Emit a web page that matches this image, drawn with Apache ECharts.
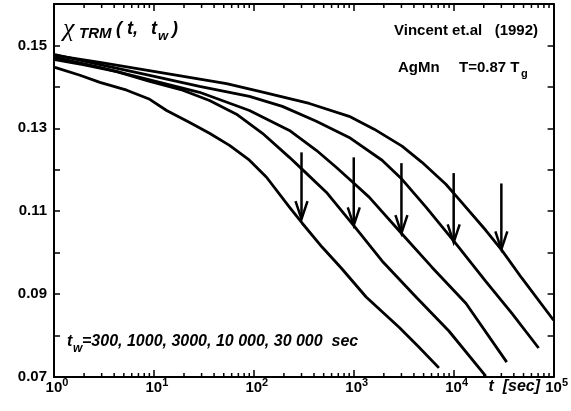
<!DOCTYPE html>
<html><head><meta charset="utf-8">
<script src="https://cdn.jsdelivr.net/npm/echarts@6/dist/echarts.min.js"></script>
<style>html,body{margin:0;padding:0;background:#fff}#c{width:571px;height:411px}</style>
</head><body><div id="c"></div>
<script>
// ---- data ----
const t300 = [1.02,1.82,2.88,5.35,9.08,13.4,22.8,36.0,57.1,90.4,134,227,305,484,749,1330,2840,4500,7120];
const v300 = [0.1447,0.1428,0.1411,0.1392,0.1370,0.1343,0.1314,0.1288,0.1259,0.1223,0.1182,0.1110,0.1071,0.1013,0.0963,0.0893,0.0820,0.0772,0.0722];
const t1000 = [1.02,1.95,4.26,9.08,19.4,36.0,67.0,122,227,305,531,1010,1920,4198,8954,20950];
const v1000 = [0.1466,0.1454,0.1437,0.1413,0.1392,0.1367,0.1334,0.1288,0.1230,0.1201,0.1146,0.1064,0.0980,0.0893,0.0811,0.0702];
const t3000 = [1.02,2.88,9.08,28.6,90.4,227,422,667,1010,1425,3041,6053,13240,33960];
const v3000 = [0.1471,0.1447,0.1417,0.1387,0.1343,0.1295,0.1247,0.1206,0.1167,0.1134,0.1045,0.0965,0.0878,0.0736];
const t10000 = [1.02,2.88,9.08,28.6,90.4,193,422,900,1920,3041,5284,10280,20950,38100,70800];
const v10000 = [0.1478,0.1454,0.1428,0.1401,0.1377,0.1353,0.1317,0.1278,0.1223,0.1177,0.1110,0.1025,0.0931,0.0854,0.0770];
const t30000 = [1.02,2.88,11.4,53.3,114,359,900,1599,3041,4820,8358,11270,20950,30270,47960,100000];
const v30000 = [0.1476,0.1459,0.1435,0.1408,0.1389,0.1360,0.1329,0.1298,0.1257,0.1218,0.1165,0.1129,0.1054,0.1006,0.0939,0.0837];
const arrowT = [300,1000,3000,10000,30000];
const arrowTop = [0.1242,0.1230,0.1216,0.1192,0.1167];
const arrowTip = [0.1081,0.1066,0.1047,0.1025,0.1008];
const xMin = 1, xMax = 100000;
const yMin = 0.07, yMax = 0.16, yStep = 0.01;
const minorMult = [2,3,4,5,6,7,8,9];
const decadeStarts = [1,10,100,1000,10000];

const FONT = '"Liberation Sans", Arial, Helvetica, sans-serif';
const zip = (a,b) => a.map((x,i)=>[x,b[i]]);
const curves = [[t300,v300],[t1000,v1000],[t3000,v3000],[t10000,v10000],[t30000,v30000]];
const minorT = [];
decadeStarts.forEach(d => minorMult.forEach(m => minorT.push(d*m)));

const chart = echarts.init(document.getElementById('c'));
const axisLine = {show:true, onZero:false, lineStyle:{color:'#000', width:2}};
const series = curves.map(c => ({
  type:'line', data: zip(c[0], c[1]), showSymbol:false, smooth:false,
  lineStyle:{color:'#000', width:2.8, join:'round'}, z:3, animation:false
}));
series.push({
  type:'custom', animation:false, z:4,
  data: arrowT.map((t,i)=>[t, arrowTop[i], arrowTip[i]]),
  encode:{x:0, y:[1,2]},
  renderItem:(params, api) => {
    const p1 = api.coord([api.value(0), api.value(1)]);
    const p2 = api.coord([api.value(0), api.value(2)]);
    return {type:'group', children:[
      {type:'line', shape:{x1:p1[0],y1:p1[1],x2:p2[0],y2:p2[1]}, style:{stroke:'#000', lineWidth:2.5}},
      {type:'polyline', shape:{points:[[p2[0]-6,p2[1]-18],[p2[0],p2[1]],[p2[0]+6,p2[1]-18]]}, style:{stroke:'#000', lineWidth:2.5, fill:null}}
    ]};
  }
});
series.push({
  type:'custom', animation:false, z:5, silent:true,
  data: minorT.map(t=>[t, yMin]),
  encode:{x:0, y:1},
  renderItem:(params, api) => {
    const b = api.coord([api.value(0), yMin]);
    const tp = api.coord([api.value(0), yMax]);
    return {type:'group', children:[
      {type:'line', shape:{x1:b[0],y1:b[1],x2:b[0],y2:b[1]-4}, style:{stroke:'#000', lineWidth:1.5}},
      {type:'line', shape:{x1:tp[0],y1:tp[1],x2:tp[0],y2:tp[1]+4}, style:{stroke:'#000', lineWidth:1.5}}
    ]};
  }
});

const txt = (text, x, y, font, align) => ({type:'text', x:x, y:y, z:10,
  style:{text:text, font:font, fill:'#000', align:align||'left', verticalAlign:'middle'}});

chart.setOption({
  animation:false,
  backgroundColor:'#fff',
  grid:{left:54, right:16, top:4, bottom:34, containLabel:false},
  xAxis:[{
    type:'log', logBase:10, min:xMin, max:xMax, position:'bottom',
    axisLine:axisLine, splitLine:{show:false},
    axisTick:{show:true, inside:true, length:7, lineStyle:{color:'#000', width:1.5}},
    axisLabel:{show:true, margin:0, color:'#000',
      formatter: v => '{sp| }{b|10}{s|' + Math.round(Math.log10(v)) + '}',
      rich:{
        sp:{width:6, fontSize:11},
        b:{fontSize:15, fontWeight:'bold', fontFamily:FONT, color:'#000'},
        s:{fontSize:11, fontWeight:'bold', fontFamily:FONT, color:'#000', padding:[0,0,11,0]}
      }}
  },{
    type:'log', logBase:10, min:xMin, max:xMax, position:'top',
    axisLine:axisLine, splitLine:{show:false},
    axisTick:{show:true, inside:true, length:7, lineStyle:{color:'#000', width:1.5}},
    axisLabel:{show:false}
  }],
  yAxis:[{
    type:'value', min:yMin, max:yMax, interval:yStep, position:'left',
    axisLine:axisLine, splitLine:{show:false},
    axisTick:{show:true, inside:true, length:6, lineStyle:{color:'#000', width:1.5}},
    axisLabel:{show:true, margin:7, color:'#000', fontSize:15, fontWeight:'bold', fontFamily:FONT,
      formatter: v => (Math.round(v*100) % 2 === 1) ? v.toFixed(2) : ''}
  },{
    type:'value', min:yMin, max:yMax, interval:yStep, position:'right',
    axisLine:axisLine, splitLine:{show:false},
    axisTick:{show:true, inside:true, length:6, lineStyle:{color:'#000', width:1.5}},
    axisLabel:{show:false}
  }],
  series: series,
  graphic: [
    txt('χ', 63, 29, 'italic 26px "Liberation Serif", serif'),
    txt('TRM', 79, 34, 'italic bold 15px ' + FONT),
    txt('(', 116, 29, 'italic bold 18px ' + FONT),
    txt('t,', 127, 29, 'italic bold 18px ' + FONT),
    txt('t', 151, 29, 'italic bold 18px ' + FONT),
    txt('w', 158, 36, 'italic bold 13px ' + FONT),
    txt(')', 172, 29, 'italic bold 18px ' + FONT),
    txt('Vincent et.al   (1992)', 538, 31, 'bold 15px ' + FONT, 'right'),
    txt('AgMn', 398, 68, 'bold 15px ' + FONT),
    txt('T=0.87 T', 459, 68, 'bold 15px ' + FONT),
    txt('g', 521, 74, 'bold 11px ' + FONT),
    txt('t', 67, 342, 'italic bold 16px ' + FONT),
    txt('w', 73, 349, 'italic bold 12px ' + FONT),
    txt('=300, 1000, 3000, 10 000, 30 000  sec', 82, 342, 'italic bold 16px ' + FONT),
    txt('t  [sec]', 540, 387, 'italic bold 16px ' + FONT, 'right')
  ]
});
</script>
</body></html>
